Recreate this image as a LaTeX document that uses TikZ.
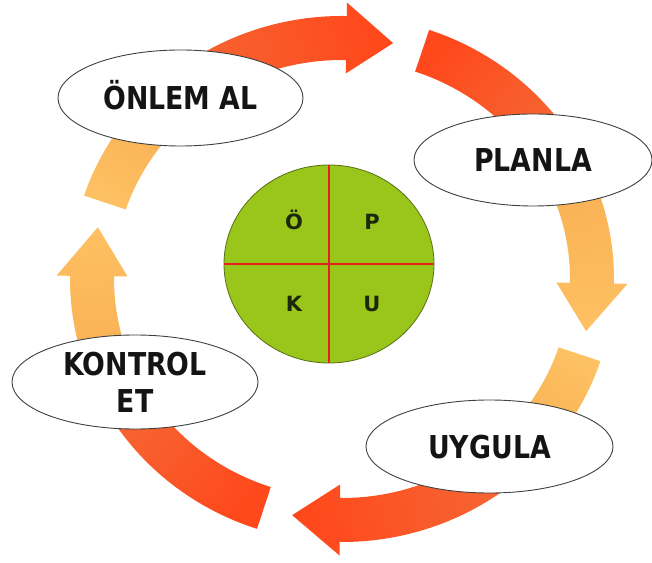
\documentclass[tikz,border=0pt]{standalone}
\usepackage{fontspec}
\newfontfamily\lblfont{DejaVu Sans}[FakeStretch=0.85]
\newfontfamily\letterfont{DejaVu Sans}
\usetikzlibrary{shapes.geometric}
\definecolor{redfar}{RGB}{255,72,28}
\definecolor{rednear}{RGB}{245,104,52}
\definecolor{peachfar}{RGB}{253,192,98}
\definecolor{peachnear}{RGB}{249,173,80}
\definecolor{pdcagreen}{RGB}{154,198,28}
\definecolor{pdcaborder}{RGB}{86,112,20}
\definecolor{crossred}{RGB}{230,30,28}
\definecolor{lettercol}{RGB}{28,40,12}
% band piece: #1 style, #2 from angle, #3 to angle
\newcommand{\bandpiece}[3]{%
  \path[#1] (#2:272pt and 263pt) arc[start angle=#2, end angle=#3, x radius=272pt, y radius=263pt]
    -- (#3:228pt and 219pt) arc[start angle=#3, end angle=#2, x radius=228pt, y radius=219pt] -- cycle;}
% head piece: #1 style, #2 from angle, #3 base angle, #4 tip angle
\newcommand{\headpiece}[4]{%
  \path[#1] (#2:272pt and 263pt) arc[start angle=#2, end angle=#3, x radius=272pt, y radius=263pt]
    -- (#3:285.5pt and 276.5pt) -- (#4:250pt and 241pt) -- (#3:214.5pt and 205.5pt)
    -- (#3:228pt and 219pt) arc[start angle=#3, end angle=#2, x radius=228pt, y radius=219pt] -- cycle;}
\begin{document}
\begin{tikzpicture}[x=1pt,y=1pt,
  lbl/.style={ellipse, draw=black!75, line width=0.9pt, fill=white, inner sep=0pt,
    font=\lblfont\bfseries\fontsize{31.5pt}{37pt}\selectfont, text=black!92, align=center},
  oneline/.style={text height=23pt, text depth=0pt},
  letter/.style={font=\letterfont\bfseries\fontsize{21pt}{24pt}\selectfont, text=lettercol,
    inner sep=0pt, text height=15.3pt, text depth=0pt},
  crossline/.style={draw=crossred, line width=2.8pt}
]
\fill[white] (0,0) rectangle (652,562);
\useasboundingbox (0,0) rectangle (652,562);
\coordinate (ring) at (342,283);
\begin{scope}[shift={(ring)}]
  % arrow from KONTROL side, under ONLEM AL, to top
  \bandpiece{shade, top color=peachfar, bottom color=peachnear, shading angle=146.6}{161.5}{131.7}
  \headpiece{shade, top color=redfar, bottom color=rednear, shading angle=-75}{131.7}{89}{78.2}
  % arrow under PLANLA
  \bandpiece{shade, top color=redfar, bottom color=rednear, shading angle=51.5}{71.3}{31.7}
  \headpiece{shade, top color=peachfar, bottom color=peachnear, shading angle=-170.4}{31.7}{-1}{-12.5}
  % arrow under UYGULA
  \bandpiece{shade, top color=peachfar, bottom color=peachnear, shading angle=-33.4}{-18.2}{-48.6}
  \headpiece{shade, top color=redfar, bottom color=rednear, shading angle=104.95}{-48.6}{-90.5}{-101.5}
  % arrow under KONTROL ET
  \bandpiece{shade, top color=redfar, bottom color=rednear, shading angle=-130.85}{-108.2}{-153.5}
  \headpiece{shade, top color=peachfar, bottom color=peachnear, shading angle=7.05}{-153.5}{-180.7}{-192.4}
\end{scope}
% labels
\node[lbl, oneline, minimum width=245pt, minimum height=96pt] (onlem) at (180.5,464) {ÖNLEM AL};
\node[lbl, oneline, minimum width=238pt, minimum height=92pt] (planla) at (533,402) {PLANLA};
\node[lbl, oneline, minimum width=247pt, minimum height=93pt] (uygula) at (489.5,115.5) {UYGULA};
\node[lbl, minimum width=246pt, minimum height=94pt] (kontrol) at (135,180) {KONTROL\\ET};
% centre disc
\node[ellipse, minimum width=210pt, minimum height=198pt, inner sep=0pt, fill=pdcagreen,
  draw=pdcaborder, line width=0.8pt] (pdca) at (329,298) {};
\draw[crossline] (pdca.west) -- (pdca.east);
\draw[crossline] (pdca.north) -- (pdca.south);
\node[letter] (lo) at (294,340.3) {Ö};
\node[letter] (lp) at (372,340.3) {P};
\node[letter] (lk) at (294,258.3) {K};
\node[letter] (lu) at (372,258.3) {U};
\end{tikzpicture}
\end{document}
